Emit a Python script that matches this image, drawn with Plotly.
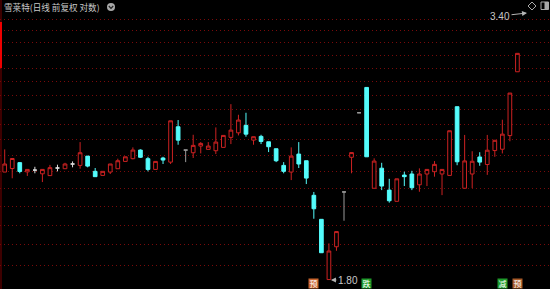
import plotly.graph_objects as go
import math

# ---- data (trading-day index, daily OHLC, forward-adjusted) ----
days = list(range(69))
opens = [2.338, 2.358, 2.392, 2.339, 2.349, 2.328, 2.318, 2.361, 2.357, 2.384,
         2.376, 2.430, 2.342, 2.319, 2.338, 2.357, 2.399, 2.415, 2.466, 2.415,
         2.353, 2.419, 2.395, 2.609, 2.466, 2.450, 2.490, 2.470, 2.462, 2.482,
         2.543, 2.571, 2.618, 2.526, 2.549, 2.516, 2.474, 2.376, 2.338, 2.442,
         2.403, 2.210, 2.085, 1.802, 1.951, 2.228, 2.423, 2.699, 2.870, 2.248,
         2.360, 2.238, 2.178, 2.321, 2.327, 2.267, 2.327, 2.340, 2.327, 2.319,
         2.739, 2.248, 2.327, 2.425, 2.381, 2.463, 2.471, 2.554, 2.981]
highs = [2.470, 2.416, 2.395, 2.353, 2.368, 2.355, 2.379, 2.380, 2.391, 2.399,
         2.514, 2.430, 2.361, 2.342, 2.384, 2.415, 2.426, 2.482, 2.470, 2.426,
         2.399, 2.426, 2.647, 2.652, 2.466, 2.559, 2.514, 2.514, 2.605, 2.555,
         2.756, 2.686, 2.699, 2.547, 2.559, 2.516, 2.474, 2.395, 2.482, 2.514,
         2.403, 2.228, 2.085, 1.967, 2.024, 2.228, 2.451, 2.699, 2.870, 2.417,
         2.391, 2.300, 2.300, 2.340, 2.345, 2.359, 2.353, 2.401, 2.353, 2.584,
         2.739, 2.558, 2.459, 2.453, 2.558, 2.525, 2.654, 2.831, 3.117]
lows = [2.338, 2.303, 2.331, 2.316, 2.331, 2.282, 2.318, 2.342, 2.357, 2.365,
        2.357, 2.365, 2.312, 2.319, 2.327, 2.357, 2.399, 2.411, 2.419, 2.342,
        2.353, 2.384, 2.384, 2.498, 2.395, 2.419, 2.446, 2.470, 2.442, 2.482,
        2.502, 2.555, 2.547, 2.498, 2.502, 2.454, 2.395, 2.331, 2.293, 2.361,
        2.271, 2.088, 1.923, 1.800, 1.932, 2.078, 2.331, 2.699, 2.426, 2.248,
        2.238, 2.171, 2.178, 2.260, 2.238, 2.229, 2.260, 2.312, 2.211, 2.319,
        2.377, 2.248, 2.249, 2.374, 2.322, 2.426, 2.446, 2.519, 2.981]
closes = [2.384, 2.416, 2.341, 2.353, 2.349, 2.353, 2.363, 2.361, 2.384, 2.384,
          2.450, 2.372, 2.312, 2.342, 2.384, 2.403, 2.426, 2.466, 2.423, 2.353,
          2.399, 2.407, 2.647, 2.526, 2.466, 2.494, 2.506, 2.490, 2.514, 2.555,
          2.588, 2.652, 2.563, 2.547, 2.518, 2.486, 2.403, 2.342, 2.430, 2.384,
          2.304, 2.139, 1.923, 1.931, 2.024, 2.228, 2.451, 2.699, 2.426, 2.401,
          2.260, 2.181, 2.300, 2.312, 2.251, 2.327, 2.353, 2.382, 2.353, 2.584,
          2.397, 2.402, 2.400, 2.395, 2.465, 2.525, 2.563, 2.831, 3.117]

title_text = "雪莱特(日线 前复权 对数)"
max_label = "3.40"
min_label = "1.80"
min_day = 43
tag_days = [41, 48, 66, 68]
tag_texts = ["预", "跌", "减", "预"]
grid_start = 1.8652
grid_step = 0.0951
grid_count = 17

W, H = 550, 289
RED = "#cc2222"
CYAN = "#54fcfc"


def px(x):
    return x / W


def py(y):
    return 1 - y / H


def pick(idx, arr):
    return [arr[i] for i in idx]


up = [i for i in days if closes[i] > opens[i]]
down = [i for i in days if closes[i] < opens[i]]
flat_white = [i for i in days if closes[i] == opens[i] and highs[i] > closes[i]]
flat_gray = [i for i in days if closes[i] == opens[i] and highs[i] <= closes[i]]

fig = go.Figure()


def add(idx, line_color, fill):
    fig.add_trace(go.Candlestick(
        x=idx, open=pick(idx, opens), high=pick(idx, highs),
        low=pick(idx, lows), close=pick(idx, closes),
        increasing=dict(line=dict(color=line_color, width=1), fillcolor=fill),
        decreasing=dict(line=dict(color=line_color, width=1), fillcolor=fill),
        whiskerwidth=0, showlegend=False, hoverinfo="skip"))


add(up, RED, "#000000")
add(down, CYAN, CYAN)
add(flat_white, "#dcdcdc", "#dcdcdc")
add(flat_gray, "#9a9a9a", "#9a9a9a")

tickvals = [grid_start + k * grid_step for k in range(grid_count)]

fig.update_layout(
    width=W, height=H,
    margin=dict(l=0, r=0, t=0, b=0),
    paper_bgcolor="#000000", plot_bgcolor="#000000",
    showlegend=False,
    xaxis=dict(range=[-0.623, 72.32], showgrid=False, zeroline=False,
               showticklabels=False, showline=False,
               rangeslider=dict(visible=False)),
    yaxis=dict(type="log", range=[math.log10(1.7612), math.log10(3.547)],
               tickmode="array", tickvals=tickvals, showticklabels=False,
               showgrid=True, gridcolor="#7a0a0a", griddash="1px,3px",
               gridwidth=1, zeroline=False, showline=False),
    font=dict(family="Noto Sans CJK SC", color="#c8c8c8"),
)

shapes = []
# left border
shapes.append(dict(type="line", xref="paper", yref="paper", x0=px(1), x1=px(1),
                   y0=0, y1=1, line=dict(color="#7a0000", width=1)))
shapes.append(dict(type="line", xref="paper", yref="paper", x0=px(1), x1=px(1),
                   y0=py(22), y1=py(68), line=dict(color="#ee0000", width=2)))
# title dropdown icon
shapes.append(dict(type="circle", xref="paper", yref="paper", x0=px(107), x1=px(115),
                   y0=py(11), y1=py(3), fillcolor="#a8a8a8", line=dict(width=0)))
shapes.append(dict(type="path", xref="paper", yref="paper",
                   path=f"M {px(108.8)},{py(6)} L {px(111)},{py(8.4)} L {px(113.2)},{py(6)}",
                   line=dict(color="#202020", width=1.2)))
# top right icons
shapes.append(dict(type="path", xref="paper", yref="paper",
                   path=f"M {px(532)},{py(2)} L {px(536)},{py(6)} L {px(532)},{py(10)} L {px(528)},{py(6)} Z",
                   line=dict(color="#a8a8a8", width=1)))
shapes.append(dict(type="rect", xref="paper", yref="paper", x0=px(541), x1=px(548.5),
                   y0=py(9.5), y1=py(2), line=dict(color="#a8a8a8", width=1)))
shapes.append(dict(type="rect", xref="paper", yref="paper", x0=px(544.5), x1=px(548.5),
                   y0=py(9.5), y1=py(2), fillcolor="#a8a8a8", line=dict(width=0)))
fig.update_layout(shapes=shapes)

ann = []
ann.append(dict(text=title_text, xref="paper", yref="paper", x=px(2), y=py(7),
                xanchor="left", yanchor="middle", showarrow=False,
                font=dict(size=8.6, color="#c8c8c8")))
ann.append(dict(text=max_label, xref="paper", yref="paper", x=px(527), y=py(13),
                ax=-27, ay=3, showarrow=True, arrowhead=2, arrowsize=1,
                arrowwidth=1, arrowcolor="#b4b4b4",
                font=dict(size=10, color="#c8c8c8", family="Liberation Sans")))
ann.append(dict(text=min_label, x=min_day, y=math.log10(lows[min_day]),
                xshift=2, ax=17, ay=0, showarrow=True, arrowhead=2, arrowsize=1,
                arrowwidth=1, arrowcolor="#b4b4b4",
                font=dict(size=10, color="#c8c8c8", family="Liberation Sans")))
tag_colors = {"预": "#c8642d", "跌": "#1e9a2a", "减": "#1e9a2a"}
for n, (d, t) in enumerate(zip(tag_days, tag_texts)):
    c = tag_colors[t]
    if n == len(tag_days) - 1:
        c = "#a85a28"
    ann.append(dict(text=t, x=d, xref="x", yref="paper", y=py(283.5),
                    yanchor="middle", showarrow=False, bgcolor=c,
                    width=9, height=9, borderpad=0,
                    font=dict(size=8, color="#ffffff")))
fig.update_layout(annotations=ann)

fig.write_html("out.html")
